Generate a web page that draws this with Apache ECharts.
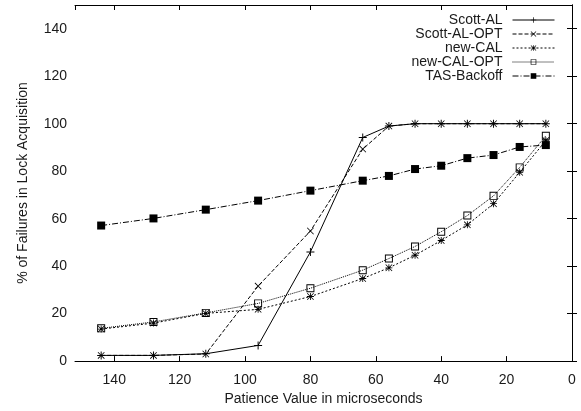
<!DOCTYPE html>
<html><head><meta charset="utf-8">
<script src="https://cdn.jsdelivr.net/npm/echarts@6/dist/echarts.min.js"></script>
<style>html,body{margin:0;padding:0;background:#fff}#c{width:581px;height:411px}</style>
</head><body><div id="c"></div>
<script>
const xs = [144,128,112,96,80,64,56,48,40,32,24,16,8];
const seriesNames = ['Scott-AL','Scott-AL-OPT','new-CAL','new-CAL-OPT','TAS-Backoff'];
const scottAL = [2.4,2.4,3.1,6.6,46,94.2,99,100,100,100,100,100,100];
const scottALOPT = [2.4,2.4,3,31.6,54.8,89.3,99,100,100,100,100,100,100];
const newCAL = [13.5,16,20.1,21.8,27.2,34.8,39.3,44.6,50.8,57.4,66.3,79.5,92.9];
const newCALOPT = [13.8,16.5,20.3,24.3,30.7,38.3,43.2,48.3,54.5,61.3,69.6,81.6,94.9];
const tasBackoff = [57.1,60.1,63.8,67.6,71.8,76,78,80.9,82.3,85.5,86.8,90.2,91];

const values = [scottAL, scottALOPT, newCAL, newCALOPT, tasBackoff];
const FONT = 'Liberation Sans';
const INK = '#1a1a1a';
const plus = 'path://M4.4,0H5.6V10H4.4Z M0,4.4H10V5.6H0Z';
const cross = 'path://M0,0.8L0.8,0L10,9.2L9.2,10Z M9.2,0L10,0.8L0.8,10L0,9.2Z';
const star = 'path://M4.4,0H5.6V10H4.4Z M0,4.4H10V5.6H0Z M0,0.8L0.8,0L10,9.2L9.2,10Z M9.2,0L10,0.8L0.8,10L0,9.2Z';
const openSq = 'path://M0,0H10V10H0Z M1.2,1.2V8.8H8.8V1.2Z';
const styles = [
  {symbol: plus, size: 8, dash: 'solid'},
  {symbol: cross, size: 7, dash: [4,2]},
  {symbol: star, size: 7, dash: [2,2]},
  {symbol: openSq, size: 8, dash: [1,1]},
  {symbol: 'rect', size: 8, dash: [6,2,1,2]}
];

const series = seriesNames.map((n, i) => ({
  name: n, type: 'line',
  data: xs.map((x, j) => [x, values[i][j]]),
  symbol: styles[i].symbol, symbolSize: styles[i].size,
  itemStyle: {color: '#000'},
  lineStyle: {color: '#000', width: 1, type: styles[i].dash},
  emphasis: {disabled: true},
  z: 3 + i
}));

const legends = seriesNames.map((n, i) => ({
  data: [{name: n, itemStyle: {color: '#000'}}],
  right: 26, top: 13 + i * 14, orient: 'vertical', align: 'right',
  padding: 0, itemWidth: 42, itemHeight: 7, selectedMode: false,
  lineStyle: {width: 1, color: '#000', type: styles[i].dash},
  textStyle: {fontFamily: FONT, fontSize: 14, color: INK, padding: [0, 5, 0, 0]}
}));

const tickLabel = {fontFamily: FONT, fontSize: 14, color: INK};
const option = {
  animation: false,
  backgroundColor: '#fff',
  grid: {left: 75, right: 9, top: 5, bottom: 47},
  legend: legends,
  xAxis: [{
    type: 'value', min: 0, max: 152, interval: 20, inverse: true,
    name: 'Patience Value in microseconds', nameLocation: 'middle', nameGap: 29,
    nameTextStyle: {fontFamily: FONT, fontSize: 14, color: INK},
    axisLine: {show: true, lineStyle: {color: '#000', width: 1}},
    axisTick: {show: true, inside: true, length: 5, lineStyle: {color: '#000'}},
    axisLabel: Object.assign({margin: 12, showMaxLabel: false}, tickLabel),
    splitLine: {show: false}
  }, {
    type: 'value', min: 0, max: 152, interval: 20, inverse: true, position: 'top',
    axisLine: {show: true, onZero: false, lineStyle: {color: '#000', width: 1}},
    axisTick: {show: true, inside: true, length: 5, lineStyle: {color: '#000'}},
    axisLabel: {show: false}, splitLine: {show: false}
  }],
  yAxis: [{
    type: 'value', min: 0, max: 150, interval: 20,
    name: '% of Failures in Lock Acquisition', nameLocation: 'middle', nameGap: 45,
    nameTextStyle: {fontFamily: FONT, fontSize: 14, color: INK},
    axisLine: {show: true, lineStyle: {color: '#000', width: 1}},
    axisTick: {show: true, inside: true, length: 5, lineStyle: {color: '#000'}},
    axisLabel: Object.assign({margin: 8, showMaxLabel: false}, tickLabel),
    splitLine: {show: false}
  }, {
    type: 'value', min: 0, max: 150, interval: 20, position: 'right',
    axisLine: {show: true, onZero: false, lineStyle: {color: '#000', width: 1}},
    axisTick: {show: true, inside: true, length: 5, lineStyle: {color: '#000'}},
    axisLabel: {show: false}, splitLine: {show: false}
  }],
  series: series
};
const chart = echarts.init(document.getElementById('c'), null, {renderer: 'canvas'});
chart.setOption(option);
</script></body></html>
